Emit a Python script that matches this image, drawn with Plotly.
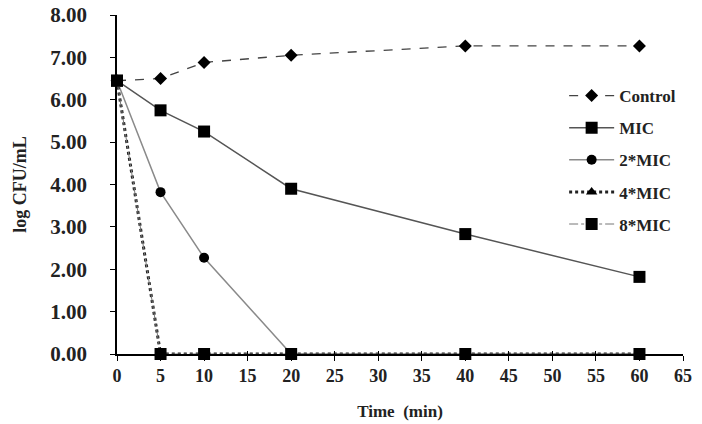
import plotly.graph_objects as go

time = [0, 5, 10, 20, 40, 60]
control = [6.45, 6.50, 6.88, 7.05, 7.27, 7.27]
mic = [6.45, 5.75, 5.25, 3.90, 2.83, 1.82]
mic2 = [6.45, 3.82, 2.27, 0.00, 0.00, 0.00]
mic4 = [6.45, 0.00, 0.00, 0.00, 0.00, 0.00]
mic8 = [6.45, 0.00, 0.00, 0.00, 0.00, 0.00]

font = "Liberation Serif, Times New Roman, serif"

fig = go.Figure()
fig.add_trace(go.Scatter(x=time, y=control, name="Control", mode="lines+markers", legendgroup="a",
                         line=dict(color="#444444", width=1.3, dash="dash"),
                         marker=dict(symbol="diamond", size=10, color="black"), cliponaxis=False))
fig.add_trace(go.Scatter(x=time, y=mic, name="MIC", mode="lines+markers", legendgroup="b",
                         line=dict(color="#555555", width=1.5),
                         marker=dict(symbol="square", size=12, color="black"), cliponaxis=False))
fig.add_trace(go.Scatter(x=time, y=mic2, name="2*MIC", mode="lines+markers", legendgroup="c",
                         line=dict(color="#8a8a8a", width=1.5),
                         marker=dict(symbol="circle", size=10, color="black"), cliponaxis=False))
fig.add_trace(go.Scatter(x=time, y=mic4, name="4*MIC", mode="lines+markers", legendgroup="d",
                         line=dict(color="#222222", width=3, dash="dot"),
                         marker=dict(symbol="triangle-up", size=10, color="black"), cliponaxis=False))
fig.add_trace(go.Scatter(x=time, y=mic8, name="8*MIC", mode="lines+markers", legendgroup="e",
                         line=dict(color="#777777", width=1, dash="dashdot"),
                         marker=dict(symbol="square", size=12, color="black"), cliponaxis=False))
# helper (empty) trace so the overlay axis with inner tick marks is drawn
fig.add_trace(go.Scatter(x=[], y=[], xaxis="x2", showlegend=False, hoverinfo="skip"))

fig.update_layout(
    width=702, height=424,
    margin=dict(l=117, r=19, t=15, b=70),
    paper_bgcolor="white", plot_bgcolor="white",
    font=dict(family=font, color="#222222", size=15),
    legend=dict(x=0.79, y=0.814, xanchor="left", yanchor="top",
                font=dict(family=font, size=17, color="#222222", weight="bold"),
                tracegroupgap=7, itemwidth=45, bgcolor="rgba(0,0,0,0)"),
    xaxis=dict(range=[0, 65], dtick=5, tick0=0, showgrid=False, zeroline=False,
               showline=True, linecolor="black", linewidth=1.5, automargin=False,
               ticks="outside", ticklen=5, tickcolor="black",
               tickfont=dict(family=font, size=18, weight="bold"),
               title=dict(text="Time  (min)", font=dict(family=font, size=17, weight="bold"), standoff=20)),
    xaxis2=dict(range=[0, 65], dtick=5, tick0=0, overlaying="x", side="bottom", anchor="y",
                showgrid=False, zeroline=False, showline=False, showticklabels=False,
                ticks="inside", ticklen=3, tickcolor="black", automargin=False),
    yaxis=dict(range=[0, 8], dtick=1, tickformat=".2f", showgrid=False, zeroline=False,
               showline=True, linecolor="black", linewidth=1.5, automargin=False,
               ticks="outside", ticklen=5, tickcolor="black", ticklabelstandoff=19,
               tickfont=dict(family=font, size=21, weight="bold"),
               title=dict(text="log CFU/mL", font=dict(family=font, size=18, weight="bold"), standoff=19)),
)

fig.write_html("out.html")
